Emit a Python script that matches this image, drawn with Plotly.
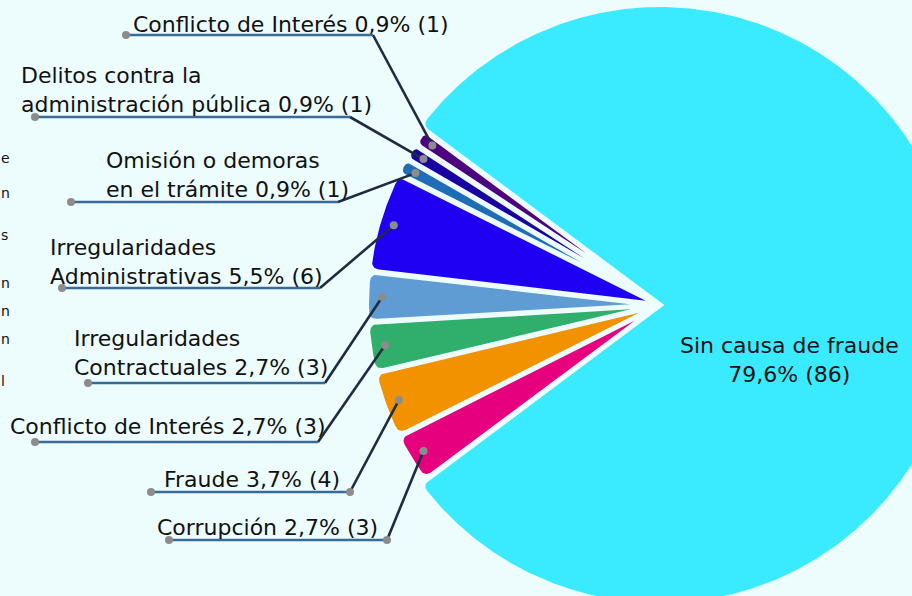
import numpy as np
import plotly.graph_objects as go

# ---------------- data ----------------
categories = [
    "Conflicto de Interés",
    "Delitos contra la administración pública",
    "Omisión o demoras en el trámite",
    "Irregularidades Administrativas",
    "Irregularidades Contractuales",
    "Conflicto de Interés",
    "Fraude",
    "Corrupción",
    "Sin causa de fraude",
]
counts = [1, 1, 1, 6, 3, 3, 4, 3, 86]

# -------------- styles / layout --------------
label_names = [
    "Conflicto de Interés",
    "Delitos contra la<br>administración pública",
    "Omisión o demoras<br>en el trámite",
    "Irregularidades<br>Administrativas",
    "Irregularidades<br>Contractuales",
    "Conflicto de Interés",
    "Fraude",
    "Corrupción",
    "Sin causa de fraude",
]
label_sep = [" ", " ", " ", " ", " ", " ", " ", " ", "<br>"]
colors = ["#4f0080", "#1a00a3", "#1f6db6", "#1f00f2", "#5f9cd4",
          "#2faf6b", "#f29200", "#e6007e", "#3aebff"]
BG = "#edfdfe"
FONT = "DejaVu Sans"
FS = 22

W, H = 912, 596
CX, CY = 660, 305          # pie centre (px)
R_PX = 291                 # radius of the small slices (px)
R_BIG = 298 / R_PX         # relative radius of the main slice
HALF_GAP = 2.6 / R_PX
RC = 8 / R_PX
DOT_R = 0.955

# label layout (px): text left, text block centre y, line y, left dot x, elbow x, elbow dot
label_layout = [
    (131, 24, 35, 126, 373, False),
    (19, 90, 117, 35, 350, False),
    (104, 175, 202, 71, 338, False),
    (48, 262, 288, 62, 320, False),
    (72, 353, 383, 88, 325, False),
    (8, 426, 442, 35, 318, False),
    (162, 479, 492, 151, 350, True),
    (155, 527, 540, 169, 387, True),
]
big_label_pos = (789, 360)
edge_frag = [("e", 158), ("n", 193), ("s", 235), ("n", 283), ("n", 311), ("n", 339), ("l", 381)]


def X(px):
    return (px - CX) / R_PX


def Y(py):
    return (CY - py) / R_PX


def bez(A, P, B, m=12):
    s = np.linspace(0, 1, m)[:, None]
    return (1 - s) ** 2 * A + 2 * (1 - s) * s * P + s ** 2 * B


def wedge(a0, a1, R, h, rc):
    half = (a1 - a0) / 2
    mid = (a0 + a1) / 2
    tip = np.array([np.cos(mid), np.sin(mid)]) * h / np.sin(half)
    dl = np.arcsin(h / R)
    b0, b1 = a0 + dl, a1 - dl
    P0 = R * np.array([np.cos(b0), np.sin(b0)])
    P1 = R * np.array([np.cos(b1), np.sin(b1)])
    L0 = np.linalg.norm(P0 - tip)
    d = min(rc, 0.48 * (b1 - b0) * R, 0.45 * L0)
    u0 = (P0 - tip) / L0
    t0 = np.array([-np.sin(b0), np.cos(b0)])
    u1 = (tip - P1) / np.linalg.norm(tip - P1)
    t1 = np.array([-np.sin(b1), np.cos(b1)])
    c0 = bez(P0 - u0 * d, P0, P0 + t0 * d)
    c1 = bez(P1 - t1 * d, P1, P1 + u1 * d)
    n = max(8, int((b1 - b0) * 180))
    th = np.linspace(b0 + d / R, b1 - d / R, n)
    arc = np.column_stack([R * np.cos(th), R * np.sin(th)])
    pts = np.vstack([tip[None, :], c0, arc, c1, tip[None, :]])
    return pts[:, 0], pts[:, 1]


total = sum(counts)
small_total = sum(counts[:-1])
unit = 2 * np.pi / total
start = np.pi - small_total * unit / 2     # small slices centred on the left

fig = go.Figure()

angles = []
a = start
for i, c in enumerate(counts):
    a0, a1 = a, a + c * unit
    angles.append((a0, a1))
    a = a1

for i, (a0, a1) in enumerate(angles):
    R = R_BIG if i == len(counts) - 1 else 1.0
    xs, ys = wedge(a0, a1, R, HALF_GAP, RC)
    fig.add_trace(go.Scatter(x=xs, y=ys, mode="lines", fill="toself",
                             fillcolor=colors[i], line=dict(width=0, color=colors[i]),
                             hoverinfo="skip", showlegend=False))


def pct_text(c):
    v = int(np.floor(c * 1000 / total + 1e-9))
    return f"{v // 10},{v % 10}%"


dots_x, dots_y = [], []
for i, lay in enumerate(label_layout):
    tx, tyc, ly, lx, ex, edot = lay
    a0, a1 = angles[i]
    mid = (a0 + a1) / 2
    sx, sy = DOT_R * np.cos(mid), DOT_R * np.sin(mid)
    fig.add_trace(go.Scatter(x=[sx, X(ex)], y=[sy, Y(ly)], mode="lines",
                             line=dict(color="#1e2c40", width=2.6),
                             hoverinfo="skip", showlegend=False))
    fig.add_trace(go.Scatter(x=[X(ex), X(lx)], y=[Y(ly), Y(ly)], mode="lines",
                             line=dict(color="#3a6a98", width=2.6),
                             hoverinfo="skip", showlegend=False))
    dots_x += [sx, X(lx)]
    dots_y += [sy, Y(ly)]
    if edot:
        dots_x.append(X(ex))
        dots_y.append(Y(ly))
    txt = f"{label_names[i]}{label_sep[i]}{pct_text(counts[i])} ({counts[i]})"
    fig.add_annotation(x=X(tx), y=Y(tyc), text=txt, showarrow=False,
                       xanchor="left", yanchor="middle", align="left",
                       font=dict(family=FONT, size=FS, color="#111111"))

fig.add_trace(go.Scatter(x=dots_x, y=dots_y, mode="markers",
                         marker=dict(color="#8c8c8c", size=8),
                         hoverinfo="skip", showlegend=False))

i = len(counts) - 1
fig.add_annotation(x=X(big_label_pos[0]), y=Y(big_label_pos[1]),
                   text=f"{label_names[i]}{label_sep[i]}{pct_text(counts[i])} ({counts[i]})",
                   showarrow=False, xanchor="center", yanchor="middle", align="center",
                   font=dict(family=FONT, size=FS, color="#111111"))

# fragments of text at the left edge of the reference, kept inside the frame
for ch, yy in edge_frag:
    fig.add_annotation(xref="paper", yref="paper", x=0, y=1 - yy / H, text=ch,
                       showarrow=False, xanchor="left", yanchor="middle", borderpad=0,
                       font=dict(family=FONT, size=14, color="#111111"))

fig.update_layout(
    width=W, height=H, autosize=False,
    margin=dict(l=0, r=0, t=0, b=0),
    paper_bgcolor=BG, plot_bgcolor=BG,
    xaxis=dict(range=[X(0), X(W)], visible=False, fixedrange=True),
    yaxis=dict(range=[Y(H), Y(0)], visible=False, fixedrange=True),
    showlegend=False,
)

fig.write_html("out.html", config={"displayModeBar": False},
               post_script="document.body.style.margin='0';document.body.style.overflow='hidden';")
